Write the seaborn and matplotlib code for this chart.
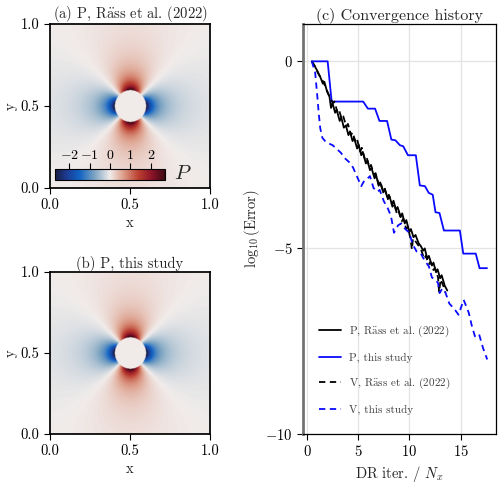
import numpy as np
import pandas as pd
import seaborn as sns
import matplotlib
matplotlib.use('Agg')
import matplotlib.pyplot as plt
from matplotlib.colors import LinearSegmentedColormap

# convergence history, log10(error) vs DR iter / Nx
p_rass_x = [0.47, 0.70, 1.00, 1.30, 1.55, 1.70, 1.95, 2.20, 2.35, 2.50, 2.75, 2.90, 3.20, 3.35,
            3.60, 3.80, 4.05, 4.20, 4.45, 4.60, 4.90, 5.05, 5.30, 5.45, 5.75, 5.90, 6.15, 6.30,
            6.60, 6.75, 7.00, 7.15, 7.45, 7.60, 7.85, 8.00, 8.30, 8.45, 8.70, 8.85, 9.15, 9.30,
            9.55, 9.70, 10.00, 10.15, 10.40, 10.60, 10.90, 11.10, 11.35, 11.50, 11.75, 11.90,
            12.20, 12.35, 12.60, 12.75, 13.00, 13.15, 13.45, 13.70]
p_rass_y = [0.00, -0.10, -0.25, -0.42, -0.60, -0.55, -0.80, -0.95, -1.25, -1.12, -1.38, -1.30,
            -1.60, -1.50, -1.78, -1.72, -1.98, -1.88, -2.14, -2.05, -2.34, -2.24, -2.52, -2.43,
            -2.74, -2.66, -2.92, -2.86, -3.14, -3.05, -3.34, -3.25, -3.52, -3.42, -3.66, -3.58,
            -3.84, -3.74, -3.99, -3.91, -4.18, -4.08, -4.35, -4.26, -4.58, -4.50, -4.72, -4.66,
            -4.88, -4.95, -5.08, -5.02, -5.30, -5.22, -5.48, -5.40, -5.66, -5.58, -5.82, -5.74,
            -6.02, -6.15]

p_this_x = [0.47, 2.02, 2.41, 5.49, 5.95, 6.65, 7.08, 7.82, 8.24, 8.64, 9.07, 9.40, 9.86, 10.63,
            11.02, 11.52, 11.89, 12.28, 12.55, 12.94, 13.37, 14.93, 15.26, 16.48, 16.85, 17.58]
p_this_y = [0.00, 0.00, -1.08, -1.08, -1.27, -1.27, -1.60, -1.60, -2.10, -2.12, -2.25, -2.28,
            -2.52, -2.52, -3.33, -3.35, -3.53, -3.58, -4.05, -4.07, -4.54, -4.54, -5.16, -5.16,
            -5.55, -5.55]

v_rass_x = [0.47, 0.75, 1.05, 1.35, 1.60, 1.80, 2.05, 2.30, 2.55, 2.70, 2.95, 3.10, 3.40, 3.55,
            3.85, 4.00, 4.30, 4.45, 4.75, 4.90, 5.20, 5.35, 5.65, 5.80, 6.10, 6.25, 6.55, 6.70,
            7.00, 7.15, 7.45, 7.60, 7.90, 8.05, 8.35, 8.50, 8.80, 8.95, 9.25, 9.40, 9.70, 9.85,
            10.10, 10.25, 10.35, 10.65, 10.90, 11.20, 11.45, 11.60, 11.90, 12.05, 12.35, 12.50,
            12.80, 12.90, 13.05, 13.35, 13.50]
v_rass_y = [0.00, -0.12, -0.30, -0.45, -0.55, -0.68, -0.85, -1.00, -1.12, -1.08, -1.35, -1.28,
            -1.55, -1.48, -1.75, -1.68, -1.98, -1.90, -2.18, -2.10, -2.42, -2.32, -2.62, -2.55,
            -2.85, -2.78, -3.05, -3.00, -3.30, -3.22, -3.50, -3.42, -3.70, -3.62, -3.90, -3.82,
            -4.10, -4.02, -4.30, -4.22, -4.50, -4.45, -4.75, -5.05, -4.75, -4.85, -4.95, -5.10,
            -5.30, -5.22, -5.45, -5.38, -5.60, -5.55, -5.80, -6.20, -5.85, -6.05, -6.20]

v_this_x = [0.47, 0.80, 1.00, 1.15, 1.30, 1.50, 1.80, 2.10, 2.50, 2.90, 3.30, 3.70, 4.10, 4.50,
            4.90, 5.30, 5.60, 5.90, 6.15, 6.50, 6.90, 7.10, 7.50, 7.90, 8.20, 8.50, 8.90, 9.20,
            9.60, 10.00, 10.30, 10.70, 11.10, 11.50, 11.90, 12.20, 12.50, 12.80, 12.95, 13.20,
            13.45, 13.90, 14.40, 14.80, 15.30, 15.80, 16.10, 16.40, 16.80, 17.20, 17.60]
v_this_y = [0.00, -0.30, -0.90, -1.40, -1.80, -2.05, -2.15, -2.20, -2.25, -2.35, -2.45, -2.60,
            -2.70, -2.85, -3.10, -3.35, -3.20, -3.15, -3.08, -3.40, -3.50, -3.45, -3.75, -3.95,
            -4.15, -4.60, -4.40, -4.35, -4.50, -4.60, -4.90, -5.10, -5.15, -5.35, -5.50, -5.80,
            -5.85, -5.95, -6.22, -6.10, -6.15, -6.50, -6.65, -6.80, -6.40, -6.75, -7.10, -7.38,
            -7.32, -7.70, -8.00]

RASS = r'R$\ddot{\mathrm{a}}$ss et al. (2022)'
series_names = ['P, ' + RASS, 'P, this study', 'V, ' + RASS, 'V, this study']
series_colors = ['black', '#0a0aff', 'black', '#0a0aff']

# pressure field around the inclusion (pure shear)
incl_radius = 0.097
p_amp = 3.0
p_lim = 2.7
cbar_ticks = [-2, -1, 0, 1, 2]

balance = LinearSegmentedColormap.from_list('balance', [
    (0.00, '#181c43'), (0.10, '#1d3a90'), (0.22, '#1062c4'), (0.36, '#7ea5c2'),
    (0.50, '#f1eceb'), (0.625, '#dc9c87'), (0.76, '#bb3f30'), (0.88, '#8c1328'),
    (1.00, '#3c0912')])

sns.set_theme(style='ticks')
plt.rcParams['font.family'] = ['cmr10', 'DejaVu Serif']
plt.rcParams['mathtext.fontset'] = 'cm'
plt.rcParams['axes.formatter.use_mathtext'] = True
plt.rcParams['font.size'] = 10
plt.rcParams['axes.edgecolor'] = 'black'
plt.rcParams['xtick.color'] = 'black'
plt.rcParams['ytick.color'] = 'black'

fig = plt.figure(figsize=(5, 4.84), dpi=100)
ax_a = fig.add_axes([0.10, 0.6116, 0.32, 0.3388])
ax_b = fig.add_axes([0.10, 0.1033, 0.32, 0.3347])
ax_c = fig.add_axes([0.606, 0.1033, 0.386, 0.847])

n = 400
xs = np.linspace(0, 1, n)
X, Y = np.meshgrid(xs, xs)
dx, dy = X - 0.5, Y - 0.5
r2 = dx**2 + dy**2
theta = np.arctan2(dy, dx)
P = -p_amp * incl_radius**2 / np.maximum(r2, 1e-9) * np.cos(2 * theta)
P[r2 < incl_radius**2] = 0.0

for ax, title in [(ax_a, '(a) P, ' + RASS), (ax_b, '(b) P, this study')]:
    im = ax.imshow(P, extent=[0, 1, 0, 1], origin='lower', cmap=balance,
                   vmin=-p_lim, vmax=p_lim, interpolation='bilinear', aspect='auto')
    ax.set_xticks([0, 0.5, 1.0])
    ax.set_yticks([0, 0.5, 1.0])
    ax.set_xticklabels(['0.0', '0.5', '1.0'])
    ax.set_yticklabels(['0.0', '0.5', '1.0'])
    ax.set_xlabel('x', labelpad=3, fontsize=10.5)
    ax.set_ylabel('y', labelpad=2, fontsize=10.5)
    ax.set_title(title, pad=3, fontsize=10.5)
    ax.tick_params(labelsize=10.5, length=4, width=0.8)

cax = fig.add_axes([0.11, 0.628, 0.22, 0.0227])
cb = fig.colorbar(im, cax=cax, orientation='horizontal', ticks=cbar_ticks)
cax.xaxis.set_ticks_position('top')
cax.tick_params(labelsize=10, length=4, width=0.8, pad=1)
cb.outline.set_linewidth(0.8)
fig.text(0.348, 0.640, '$P$', fontsize=15, va='center', ha='left')

# convergence panel
frames = []
for name, xv, yv in zip(series_names,
                        [p_rass_x, p_this_x, v_rass_x, v_this_x],
                        [p_rass_y, p_this_y, v_rass_y, v_this_y]):
    frames.append(pd.DataFrame({'iter': xv, 'err': yv, 'series': name}))
conv = pd.concat(frames, ignore_index=True)

sns.lineplot(data=conv, x='iter', y='err', hue='series', style='series',
             hue_order=series_names, style_order=series_names,
             palette=dict(zip(series_names, series_colors)),
             dashes={series_names[0]: '', series_names[1]: '',
                     series_names[2]: (3.5, 2.5), series_names[3]: (3.5, 2.5)},
             estimator=None, sort=False, linewidth=1.3, ax=ax_c)

ax_c.set_ylim(-10, 1)
ax_c.set_yticks([0, -5, -10])
ax_c.set_xticks([0, 5, 10, 15])
ax_c.grid(True, color='#e3e3e3', linewidth=0.9)
ax_c.set_axisbelow(True)
ax_c.set_xlabel('DR iter. / $N_x$', fontsize=10.5, labelpad=3)
ax_c.set_ylabel(r'$\log_{10}(\mathrm{Error})$', fontsize=10.5, labelpad=2)
ax_c.set_title('(c) Convergence history', pad=3, fontsize=11.5)
ax_c.tick_params(labelsize=10.5, length=4, width=0.8)
ax_c.spines['left'].set_color('0.45')
ax_c.spines['left'].set_linewidth(2)
for s in ['top', 'right', 'bottom']:
    ax_c.spines[s].set_linewidth(0.9)
leg = ax_c.legend(loc='lower left', bbox_to_anchor=(0.03, 0.022), frameon=False,
                  labelspacing=1.2, fontsize=8.0, handlelength=2.0, handletextpad=0.7,
                  labelcolor='0.25')

fig.savefig('out.png', dpi=100)
